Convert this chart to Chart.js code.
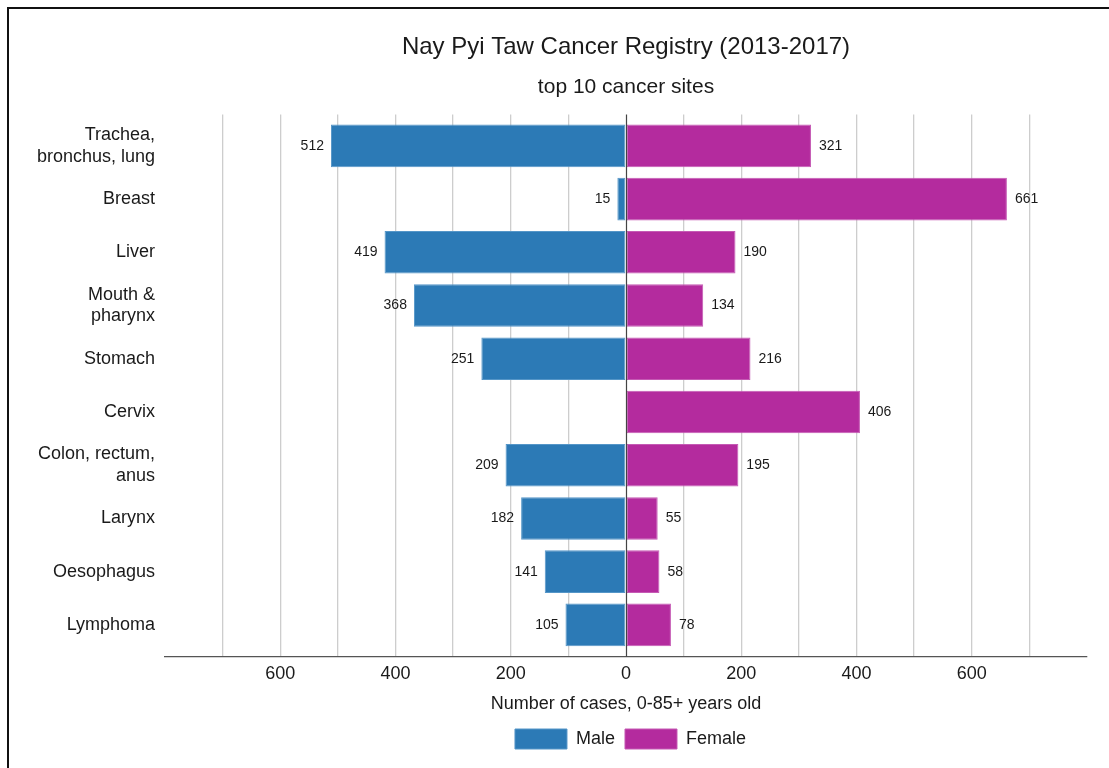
<!DOCTYPE html>
<html>
<head>
<meta charset="utf-8">
<script src="https://cdn.jsdelivr.net/npm/chart.js@4/dist/chart.umd.min.js"></script>
<style>
  html, body { margin: 0; padding: 0; background: #fff; overflow: hidden; }
  #frame { position: absolute; left: 7px; top: 7px; width: 1200px; height: 900px; border: 2px solid #111; }
  #wrap { position: absolute; left: 0; top: 0; width: 1109px; height: 768px; }
</style>
</head>
<body>
<div id="frame"></div>
<div id="wrap"><canvas id="chart"></canvas></div>
<script>
const sites = [["Trachea,", "bronchus, lung"], "Breast", "Liver", ["Mouth &", "pharynx"], "Stomach", "Cervix", ["Colon, rectum,", "anus"], "Larynx", "Oesophagus", "Lymphoma"];
const maleCases = [512, 15, 419, 368, 251, null, 209, 182, 141, 105];
const femaleCases = [321, 661, 190, 134, 216, 406, 195, 55, 58, 78];
const tickLabels = [-600, -400, -200, 0, 200, 400, 600];

const FONT = "'Liberation Sans', Arial, sans-serif";
const TEXT = '#1a1a1a';

// value labels at bar ends + zero line drawn over the bars
const valueLabels = {
  id: 'valueLabels',
  afterLayout(chart) {
    // nudge legend a little right, like the original
    chart.legend.left += 4.5;
    chart.legend.right += 4.5;
  },
  afterDatasetsDraw(chart) {
    const ctx = chart.ctx;
    ctx.save();
    ctx.font = '14px ' + FONT;
    ctx.fillStyle = TEXT;
    ctx.textBaseline = 'middle';
    chart.data.datasets.forEach((ds, i) => {
      chart.getDatasetMeta(i).data.forEach((bar, j) => {
        const v = ds.data[j];
        if (v == null) return;
        if (v < 0) {
          ctx.textAlign = 'right';
          ctx.fillText(String(-v), bar.x - 7, bar.y);
        } else {
          ctx.textAlign = 'left';
          ctx.fillText(String(v), bar.x + 8, bar.y);
        }
      });
    });
    const x0 = chart.scales.x.getPixelForValue(0);
    ctx.strokeStyle = '#444';
    ctx.lineWidth = 1.2;
    ctx.beginPath();
    ctx.moveTo(Math.round(x0) + 0.5, chart.chartArea.top);
    ctx.lineTo(Math.round(x0) + 0.5, chart.chartArea.bottom);
    ctx.stroke();
    ctx.restore();
  }
};

new Chart(document.getElementById('chart'), {
  type: 'bar',
  data: {
    labels: sites.map((s, i) => i),
    datasets: [
      {
        label: 'Male',
        data: maleCases.map(v => v == null ? null : -v),
        backgroundColor: '#2c7ab6',
        borderColor: '#5596c8',
        borderWidth: 1,
        borderSkipped: false
      },
      {
        label: 'Female',
        data: femaleCases,
        backgroundColor: '#b42b9e',
        borderColor: '#c55ab4',
        borderWidth: 1,
        borderSkipped: false
      }
    ]
  },
  options: {
    indexAxis: 'y',
    responsive: true,
    maintainAspectRatio: false,
    animation: false,
    categoryPercentage: 0.8,
    barPercentage: 1,
    layout: { padding: { top: 10, right: 22, bottom: 9, left: 0 } },
    plugins: {
      title: {
        display: true,
        text: 'Nay Pyi Taw Cancer Registry (2013-2017)',
        color: TEXT,
        font: { family: FONT, size: 24, weight: 'normal' },
        padding: { top: 23, bottom: 0 },
        fullSize: false
      },
      subtitle: {
        display: true,
        text: 'top 10 cancer sites',
        color: TEXT,
        font: { family: FONT, size: 21, weight: 'normal' },
        padding: { top: 13, bottom: 14.5 },
        fullSize: false
      },
      legend: {
        position: 'bottom',
        fullSize: false,
        labels: {
          color: TEXT,
          font: { family: FONT, size: 18 },
          boxWidth: 52,
          boxHeight: 20,
          padding: 10
        }
      },
      tooltip: { enabled: false }
    },
    scales: {
      x: {
        stacked: true,
        min: -800,
        max: 800,
        ticks: {
          stepSize: 100,
          autoSkip: false,
          maxRotation: 0,
          color: TEXT,
          font: { family: FONT, size: 18 },
          padding: 6,
          callback: v => tickLabels.includes(v) ? String(Math.abs(v)) : ''
        },
        grid: {
          drawTicks: false,
          color: ctx => (ctx.tick && (Math.abs(ctx.tick.value) === 800 || ctx.tick.value === 0)) ? 'rgba(0,0,0,0)' : '#cdcdcd',
          lineWidth: 1.3
        },
        border: { display: true, color: '#555', width: 1.3 },
        title: {
          display: true,
          text: 'Number of cases, 0-85+ years old',
          color: TEXT,
          font: { family: FONT, size: 18 },
          padding: { top: 3, bottom: 4 }
        }
      },
      y: {
        type: 'linear',
        stacked: true,
        reverse: true,
        offset: false,
        min: -0.59,
        max: 9.6,
        afterFit: scale => { scale.width = 165; },
        ticks: {
          stepSize: 1,
          includeBounds: false,
          autoSkip: false,
          color: TEXT,
          font: { family: FONT, size: 18 },
          padding: 10,
          callback: v => Number.isInteger(v) && sites[v] !== undefined ? sites[v] : ''
        },
        grid: { display: false, drawTicks: false, offset: false },
        border: { display: false }
      }
    }
  },
  plugins: [valueLabels]
});
</script>
</body>
</html>
